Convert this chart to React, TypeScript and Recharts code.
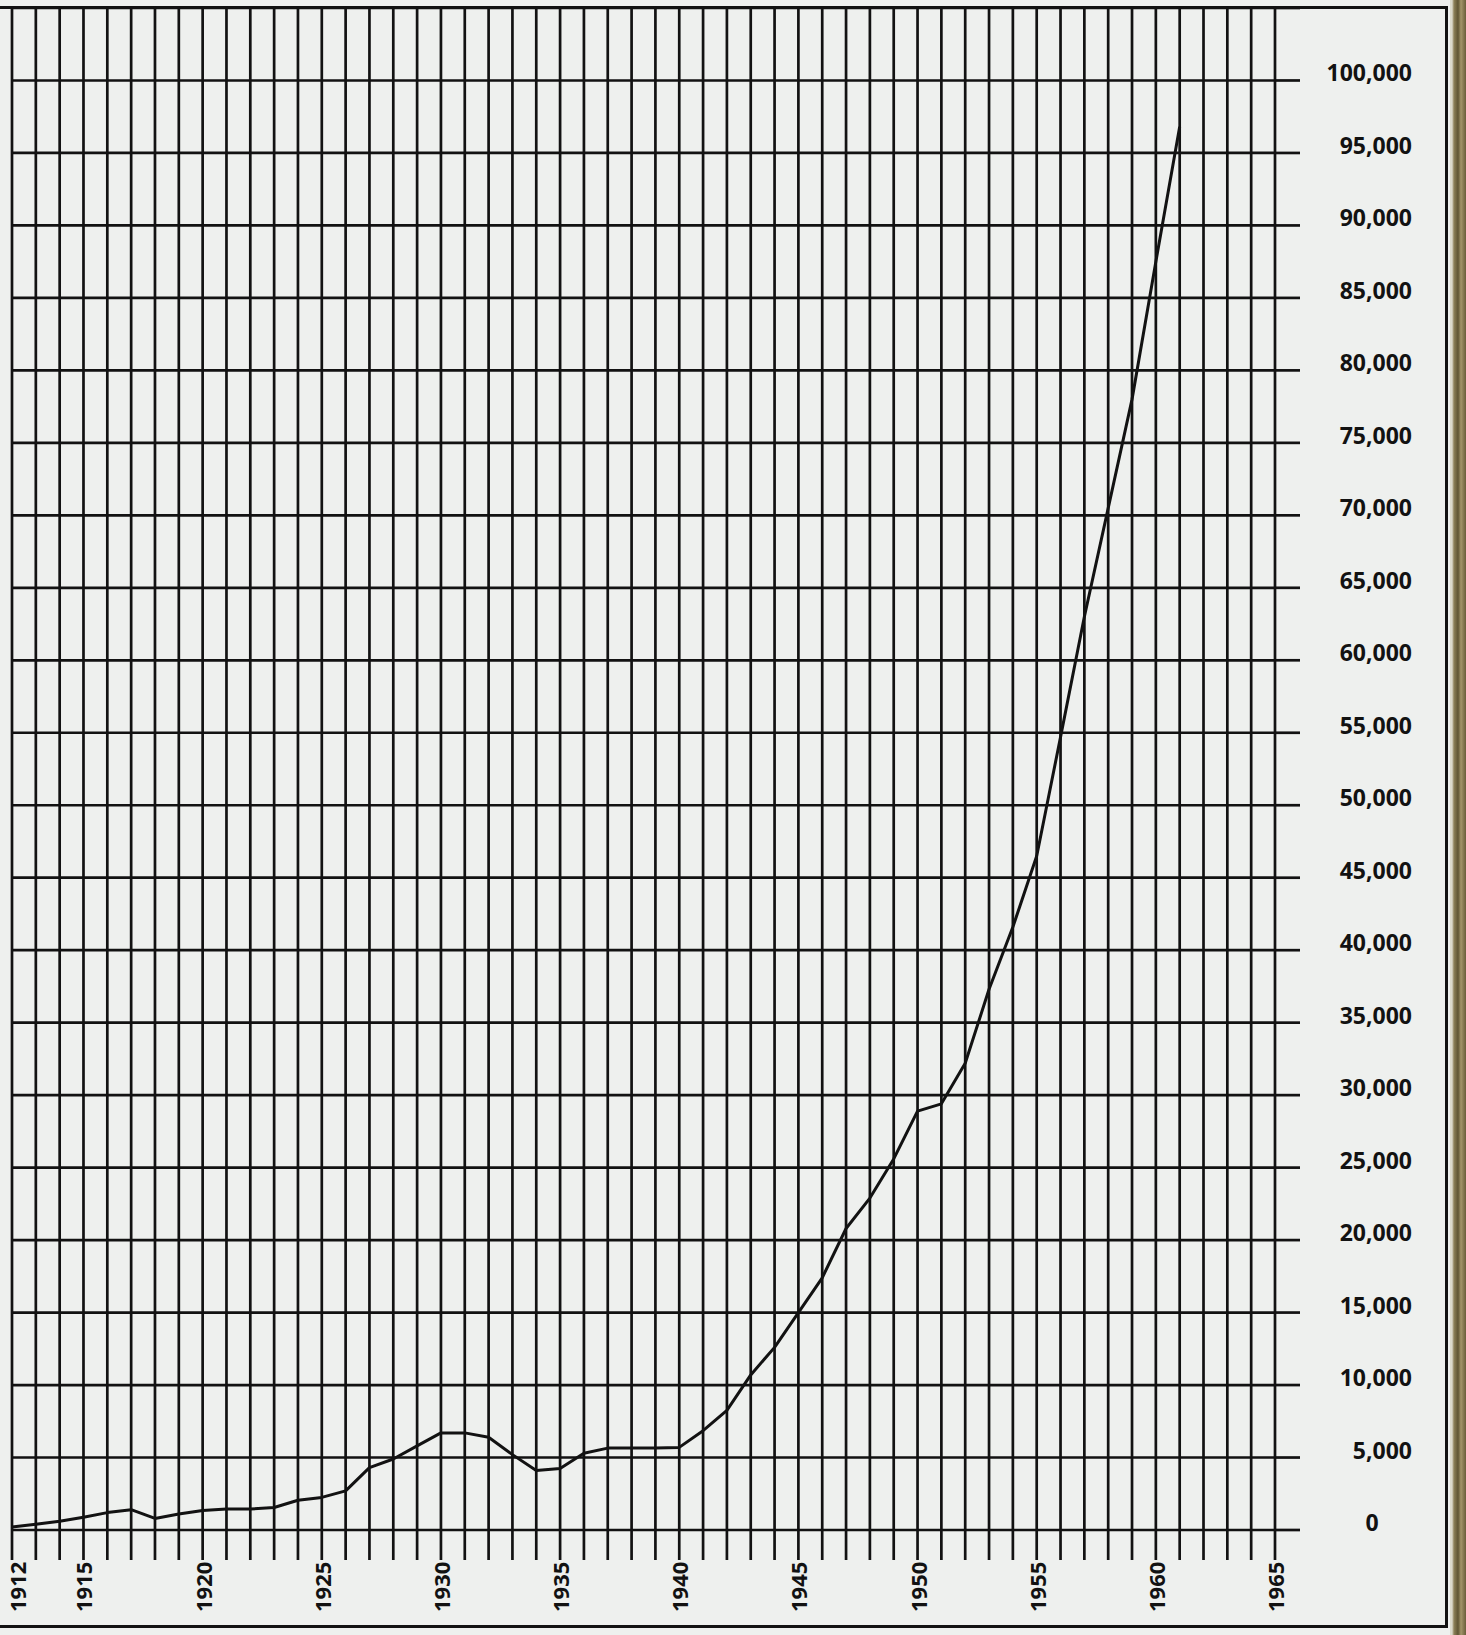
import React from 'react';
import { LineChart, Line, XAxis, YAxis, CartesianGrid } from 'recharts';

// ---- data ----
const years = [
  1912, 1913, 1914, 1915, 1916, 1917, 1918, 1919, 1920, 1921,
  1922, 1923, 1924, 1925, 1926, 1927, 1928, 1929, 1930, 1931,
  1932, 1933, 1934, 1935, 1936, 1937, 1938, 1939, 1940, 1941,
  1942, 1943, 1944, 1945, 1946, 1947, 1948, 1949, 1950, 1951,
  1952, 1953, 1954, 1955, 1956, 1957, 1958, 1959, 1960, 1961,
];
const values = [
  200, 400, 600, 880, 1200, 1400, 800, 1100, 1350, 1450,
  1450, 1550, 2050, 2250, 2700, 4300, 4900, 5800, 6700, 6700,
  6400, 5200, 4100, 4250, 5300, 5650, 5650, 5650, 5700, 6850,
  8250, 10700, 12600, 15000, 17400, 20800, 22900, 25600, 28900, 29400,
  32200, 37300, 41600, 46500, 54700, 63000, 70500, 78000, 87500, 96800,
];

// every year has a grid line; only some carry a label
const yearTicks = [
  1912, 1913, 1914, 1915, 1916, 1917, 1918, 1919, 1920, 1921, 1922, 1923,
  1924, 1925, 1926, 1927, 1928, 1929, 1930, 1931, 1932, 1933, 1934, 1935,
  1936, 1937, 1938, 1939, 1940, 1941, 1942, 1943, 1944, 1945, 1946, 1947,
  1948, 1949, 1950, 1951, 1952, 1953, 1954, 1955, 1956, 1957, 1958, 1959,
  1960, 1961, 1962, 1963, 1964, 1965,
];
const labeledYears = [1912, 1915, 1920, 1925, 1930, 1935, 1940, 1945, 1950, 1955, 1960, 1965];

const valueTicks = [
  0, 5000, 10000, 15000, 20000, 25000, 30000, 35000, 40000, 45000, 50000,
  55000, 60000, 65000, 70000, 75000, 80000, 85000, 90000, 95000, 100000, 105000,
];
const valueLabels = [
  '0', '5,000', '10,000', '15,000', '20,000', '25,000', '30,000', '35,000', '40,000', '45,000', '50,000',
  '55,000', '60,000', '65,000', '70,000', '75,000', '80,000', '85,000', '90,000', '95,000', '100,000', '',
];

const data = years.map((y, i) => ({ year: y, value: values[i] }));

const INK = '#121212';
const GRID_W = 2.7;
const FONT = '"Open Sans", "DejaVu Sans", sans-serif';

const XTick = (props: any) => {
  const { x, y, payload } = props;
  if (!labeledYears.includes(payload.value)) return <g />;
  const bx = Math.max(x + 9, 26);
  return (
    <text
      transform={`translate(${bx}, ${y + 50}) rotate(-90)`}
      textAnchor="start"
      fontFamily={FONT}
      fontWeight={700}
      fontSize={22}
      fill={INK}
    >
      {payload.value}
    </text>
  );
};

const YTick = (props: any) => {
  const { x, y, payload } = props;
  const idx = valueTicks.indexOf(payload.value);
  const label = idx >= 0 ? valueLabels[idx] : '';
  if (!label) return <g />;
  const isZero = payload.value === 0;
  return (
    <text
      x={isZero ? x + 70 : x + 110}
      y={y + 1}
      textAnchor={isZero ? 'middle' : 'end'}
      fontFamily={FONT}
      fontWeight={700}
      fontSize={23}
      fill={INK}
    >
      {label}
    </text>
  );
};

export default function App() {
  return (
    <div
      style={{
        position: 'absolute',
        left: 0,
        top: 0,
        width: 1466,
        height: 1635,
        background: '#eef0ee',
        overflow: 'hidden',
      }}
    >
      <div
        style={{
          position: 'absolute',
          left: -10,
          top: 6,
          width: 1458,
          height: 1622,
          boxSizing: 'border-box',
          borderTop: `3px solid ${INK}`,
          borderRight: `3px solid ${INK}`,
          borderBottom: `3px solid ${INK}`,
        }}
      />
      <div
        style={{
          position: 'absolute',
          left: 1450,
          top: 0,
          width: 16,
          height: 1635,
          background:
            'linear-gradient(to right, #dcdacd 0px, #dcdacd 2px, #8c7f57 4px, #5f5433 8px, #a3956a 11px, #6a5d3a 16px)',
        }}
      />
      <div style={{ position: 'absolute', left: 0, top: 0 }}>
        <LineChart
          width={1466}
          height={1635}
          data={data}
          margin={{ top: 8, right: 0, bottom: 0, left: 0 }}
        >
          <CartesianGrid
            stroke={INK}
            strokeWidth={GRID_W}
            horizontal={true}
            vertical={true}
            fill="none"
          />
          <XAxis
            dataKey="year"
            type="number"
            domain={[1912, 1965]}
            ticks={yearTicks}
            interval={0}
            height={105}
            tickSize={30}
            axisLine={false}
            tickLine={{ stroke: INK, strokeWidth: GRID_W }}
            tick={<XTick />}
          />
          <YAxis
            yAxisId={0}
            orientation="right"
            type="number"
            domain={[0, 105000]}
            ticks={valueTicks}
            interval={0}
            width={191}
            tickSize={25}
            axisLine={false}
            tickLine={{ stroke: INK, strokeWidth: GRID_W }}
            tick={<YTick />}
          />
          <YAxis
            yAxisId="left"
            orientation="left"
            type="number"
            domain={[0, 105000]}
            ticks={valueTicks}
            interval={0}
            width={12}
            tickSize={12}
            axisLine={false}
            tickLine={{ stroke: INK, strokeWidth: GRID_W }}
            tick={false}
          />
          <Line
            yAxisId={0}
            type="linear"
            dataKey="value"
            stroke={INK}
            strokeWidth={3}
            strokeLinejoin="round"
            dot={false}
            activeDot={false}
            isAnimationActive={false}
          />
        </LineChart>
      </div>
    </div>
  );
}
